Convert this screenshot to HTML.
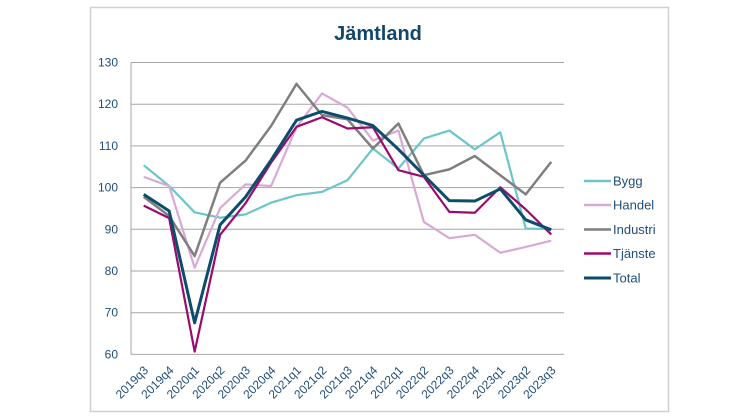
<!DOCTYPE html>
<html><head><meta charset="utf-8"><style>
html,body{margin:0;padding:0;background:#fff;}
svg{display:block;}
text{font-family:"Liberation Sans",sans-serif;}
</style></head><body>
<svg width="746" height="419" viewBox="0 0 746 419" xmlns="http://www.w3.org/2000/svg">
<rect x="90.5" y="7.5" width="578" height="404" fill="#fff" stroke="#D0D0D0" stroke-width="1.5"/>
<text x="378" y="40" text-anchor="middle" font-size="20" font-weight="bold" fill="#12466B">Jämtland</text>
<g stroke="#A6A6A6" stroke-width="1">
<line x1="131" y1="62.5" x2="564" y2="62.5"/>
<line x1="131" y1="104.2" x2="564" y2="104.2"/>
<line x1="131" y1="145.9" x2="564" y2="145.9"/>
<line x1="131" y1="187.6" x2="564" y2="187.6"/>
<line x1="131" y1="229.3" x2="564" y2="229.3"/>
<line x1="131" y1="271" x2="564" y2="271"/>
<line x1="131" y1="312.7" x2="564" y2="312.7"/>
<line x1="131" y1="354.4" x2="564" y2="354.4"/>
<line x1="131" y1="62.5" x2="131" y2="354.4"/>
</g>
<g font-size="12" fill="#1F4E79" text-anchor="end">
<text x="118" y="66.5">130</text>
<text x="118" y="108.2">120</text>
<text x="118" y="149.9">110</text>
<text x="118" y="191.6">100</text>
<text x="118" y="233.3">90</text>
<text x="118" y="275">80</text>
<text x="118" y="316.7">70</text>
<text x="118" y="358.4">60</text>
</g>
<g font-size="12" fill="#1F4E79" text-anchor="end">
<text transform="translate(149,371) rotate(-45)">2019q3</text>
<text transform="translate(174.5,371) rotate(-45)">2019q4</text>
<text transform="translate(199.9,371) rotate(-45)">2020q1</text>
<text transform="translate(225.4,371) rotate(-45)">2020q2</text>
<text transform="translate(250.9,371) rotate(-45)">2020q3</text>
<text transform="translate(276.4,371) rotate(-45)">2020q4</text>
<text transform="translate(301.8,371) rotate(-45)">2021q1</text>
<text transform="translate(327.3,371) rotate(-45)">2021q2</text>
<text transform="translate(352.8,371) rotate(-45)">2021q3</text>
<text transform="translate(378.2,371) rotate(-45)">2021q4</text>
<text transform="translate(403.7,371) rotate(-45)">2022q1</text>
<text transform="translate(429.2,371) rotate(-45)">2022q2</text>
<text transform="translate(454.6,371) rotate(-45)">2022q3</text>
<text transform="translate(480.1,371) rotate(-45)">2022q4</text>
<text transform="translate(505.6,371) rotate(-45)">2023q1</text>
<text transform="translate(531.1,371) rotate(-45)">2023q2</text>
<text transform="translate(556.5,371) rotate(-45)">2023q3</text>
</g>
<g transform="translate(143.7,604.7) scale(25.47,-4.17)" fill="none" stroke-linejoin="round" stroke-linecap="butt">
<polyline vector-effect="non-scaling-stroke" stroke="#6CC5C9" stroke-width="2.2" points="0,105.4 1,100.4 2,94.1 3,92.8 4,93.6 5,96.4 6,98.2 7,99.0 8,101.8 9,109.4 10,104.6 11,111.8 12,113.7 13,109.2 14,113.3 15,90.2 16,90.1"/>
<polyline vector-effect="non-scaling-stroke" stroke="#D9A9D6" stroke-width="2.2" points="0,102.6 1,100.4 2,80.8 3,95.1 4,100.8 5,100.4 6,114.5 7,122.6 8,119.2 9,111.3 10,113.7 11,91.8 12,87.9 13,88.7 14,84.4 15,85.8 16,87.3"/>
<polyline vector-effect="non-scaling-stroke" stroke="#7F7F7F" stroke-width="2.5" points="0,97.8 1,93.2 2,83.6 3,101.2 4,106.5 5,114.8 6,124.9 7,117.4 8,116.4 9,109.4 10,115.4 11,103.0 12,104.4 13,107.6 14,103.0 15,98.4 16,106.2"/>
<polyline vector-effect="non-scaling-stroke" stroke="#9B0A6E" stroke-width="2.2" points="0,95.7 1,92.7 2,60.7 3,88.7 4,96.3 5,106.0 6,114.6 7,116.9 8,114.2 9,114.5 10,104.2 11,102.6 12,94.2 13,94.0 14,100.1 15,94.8 16,88.8"/>
<polyline vector-effect="non-scaling-stroke" stroke="#0D4D6C" stroke-width="3" points="0,98.4 1,94.4 2,67.6 3,91.1 4,97.8 5,106.6 6,116.2 7,118.3 8,116.7 9,114.9 10,109.2 11,103.0 12,96.9 13,96.8 14,99.7 15,92.3 16,89.9"/>
</g>
<g stroke-width="2.5">
<line x1="584" y1="181" x2="611" y2="181" stroke="#6CC5C9"/>
<line x1="584" y1="205" x2="611" y2="205" stroke="#D9A9D6"/>
<line x1="584" y1="229.5" x2="611" y2="229.5" stroke="#7F7F7F"/>
<line x1="584" y1="253.5" x2="611" y2="253.5" stroke="#9B0A6E"/>
<line x1="584" y1="278" x2="611" y2="278" stroke="#0D4D6C" stroke-width="3"/>
</g>
<g font-size="13" fill="#1F4E79">
<text x="613" y="185.5">Bygg</text>
<text x="613" y="209.5">Handel</text>
<text x="613" y="234">Industri</text>
<text x="613" y="258">Tjänste</text>
<text x="613" y="282.5">Total</text>
</g>
</svg>
</body></html>
